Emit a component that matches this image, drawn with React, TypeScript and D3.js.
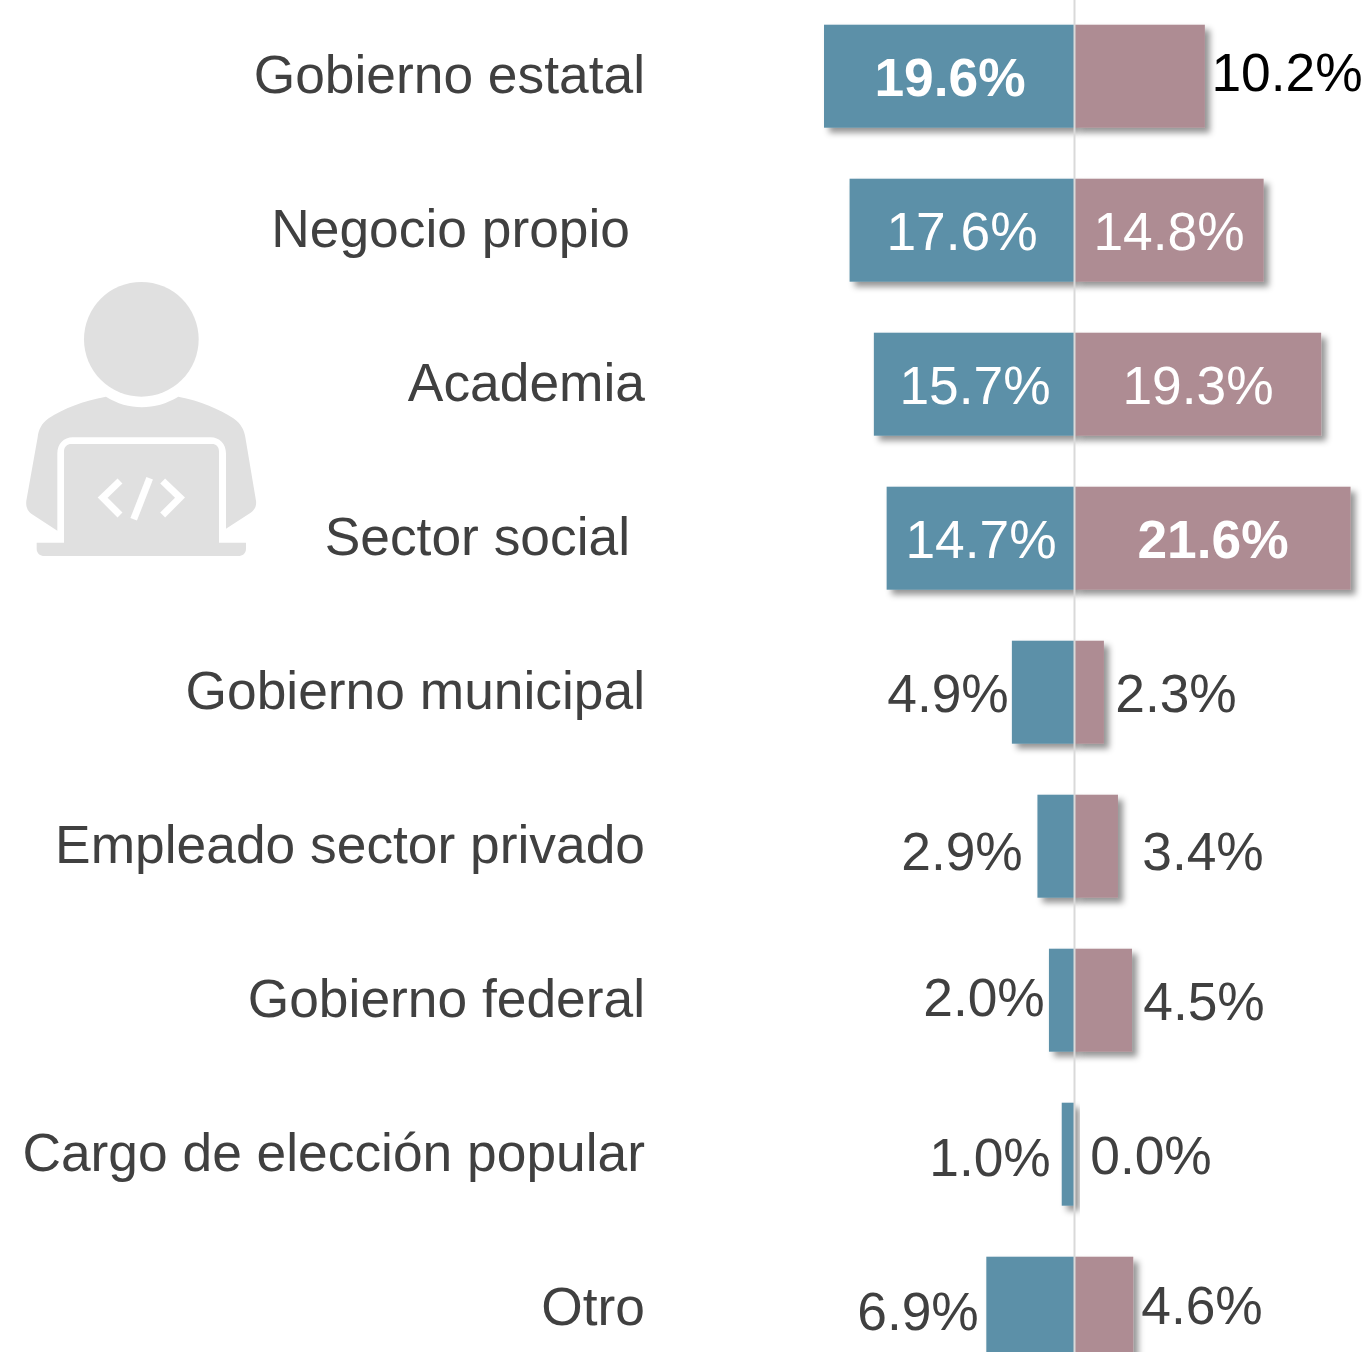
import React from "react";
import * as d3 from "d3";

const categories = [
  "Gobierno estatal",
  "Negocio propio ",
  "Academia",
  "Sector social ",
  "Gobierno municipal",
  "Empleado sector privado",
  "Gobierno federal",
  "Cargo de elección popular",
  "Otro",
];
const leftValues = [19.6, 17.6, 15.7, 14.7, 4.9, 2.9, 2.0, 1.0, 6.9];
const rightValues = [10.2, 14.8, 19.3, 21.6, 2.3, 3.4, 4.5, 0.0, 4.6];

// Label placement (the originals were hand-positioned)
const categoryRight = [645, 630, 645, 630, 645, 645, 645, 645, 645];
const leftLabelX = [950, 962, 975, 981, 948, 962, 984, 990, 918];
const leftLabelDy = [20, 20, 20, 20, 20, 24, 16, 22, 22];
const rightLabelX = [1287, 1169, 1198, 1213, 1176, 1203, 1204, 1151, 1202];
const rightLabelDy = [15, 20, 20, 20, 20, 24, 20, 20, 16];
const leftBold = [true, false, false, false, false, false, false, false, false];
const rightBold = [false, false, false, true, false, false, false, false, false];
const leftInside = [true, true, true, true, false, false, false, false, false];
const rightInside = [false, true, true, true, false, false, false, false, false];

const WIDTH = 1362;
const HEIGHT = 1352;
const ZERO = 1074.5;
const PX_PER_PCT = 12.78;
const BLUE = "#5c90a8";
const MAUVE = "#ae8c93";
const GREY_TEXT = "#404040";
const ICON = "#e0e0e0";
const FONT = "'Liberation Sans', Arial, sans-serif";
const FONT_SIZE = 53.33;

const fmt = (v: number) => `${v.toFixed(1)}%`;

export default function App() {
  const x = d3
    .scaleLinear()
    .domain([-20, 20])
    .range([ZERO - 20 * PX_PER_PCT, ZERO + 20 * PX_PER_PCT]);
  const y = d3
    .scaleBand<string>()
    .domain(categories)
    .range([-0.8, 1385.2])
    .paddingInner(51 / 154)
    .paddingOuter(25.5 / 154);
  const bw = y.bandwidth();

  return (
    <svg
      width={WIDTH}
      height={HEIGHT}
      viewBox={`0 0 ${WIDTH} ${HEIGHT}`}
      style={{ position: "absolute", left: 0, top: 0, display: "block" }}
      fontFamily={FONT}
    >
      <defs>
        <filter id="barShadow" x="-30%" y="-30%" width="170%" height="170%">
          <feDropShadow dx="5" dy="5" stdDeviation="3" floodColor="#000" floodOpacity="0.42" />
        </filter>
      </defs>
      <rect width={WIDTH} height={HEIGHT} fill="#fff" />

      {/* person-at-laptop icon */}
      <g transform="translate(0,260) scale(0.33333)">
        <circle cx={424} cy={238} r={172} fill={ICON} />
        <path
          fill={ICON}
          d="M318 410 C385 452 465 452 535 410 C600 422 660 448 700 475 C722 490 733 510 736 532 L768 722 C770 738 764 750 752 758 L678 806 L678 580 C678 552 658 532 632 532 L218 532 C192 532 172 552 172 580 L172 812 L95 762 C82 753 77 740 79 722 L113 532 C116 508 125 490 146 475 C190 446 250 422 318 410 Z"
        />
        <path
          fill={ICON}
          d="M192 848 L192 574 C192 560 202 552 214 552 L636 552 C648 552 657 560 657 574 L657 848 L738 848 L738 866 C738 880 728 888 714 888 L134 888 C120 888 110 880 110 866 L110 848 Z"
        />
        <g fill="none" stroke="#fff" strokeWidth={21}>
          <path d="M360 663 L308 713 L360 765" />
          <path d="M449 655 L401 778" />
          <path d="M488 663 L540 713 L488 765" />
        </g>
      </g>

      {categories.map((c, i) => {
        const top = y(c)!;
        const mid = top + bw / 2;
        return (
          <g key={c}>
            <text
              x={categoryRight[i]}
              y={mid + 16.5}
              textAnchor="end"
              fontSize={FONT_SIZE}
              fill={GREY_TEXT}
              style={{ whiteSpace: "pre" }}
            >
              {c.trimEnd()}
            </text>
            <rect
              x={x(-leftValues[i])}
              y={top}
              width={x(0) - x(-leftValues[i])}
              height={bw}
              fill={BLUE}
              filter="url(#barShadow)"
            />
            {rightValues[i] > 0 && (
              <rect
                x={x(0)}
                y={top}
                width={x(rightValues[i]) - x(0)}
                height={bw}
                fill={MAUVE}
                filter="url(#barShadow)"
              />
            )}
          </g>
        );
      })}

      <line x1={ZERO} x2={ZERO} y1={0} y2={HEIGHT} stroke="#d9d9d9" strokeWidth={2} />

      {categories.map((c, i) => {
        const mid = y(c)! + bw / 2;
        return (
          <g key={c} fontSize={FONT_SIZE} textAnchor="middle">
            <text
              x={leftLabelX[i]}
              y={mid + leftLabelDy[i]}
              fill={leftInside[i] ? "#fff" : GREY_TEXT}
              fontWeight={leftBold[i] ? 700 : 400}
            >
              {fmt(leftValues[i])}
            </text>
            <text
              x={rightLabelX[i]}
              y={mid + rightLabelDy[i]}
              fill={i === 0 ? "#000" : rightInside[i] ? "#fff" : GREY_TEXT}
              fontWeight={rightBold[i] ? 700 : 400}
            >
              {fmt(rightValues[i])}
            </text>
          </g>
        );
      })}
    </svg>
  );
}
